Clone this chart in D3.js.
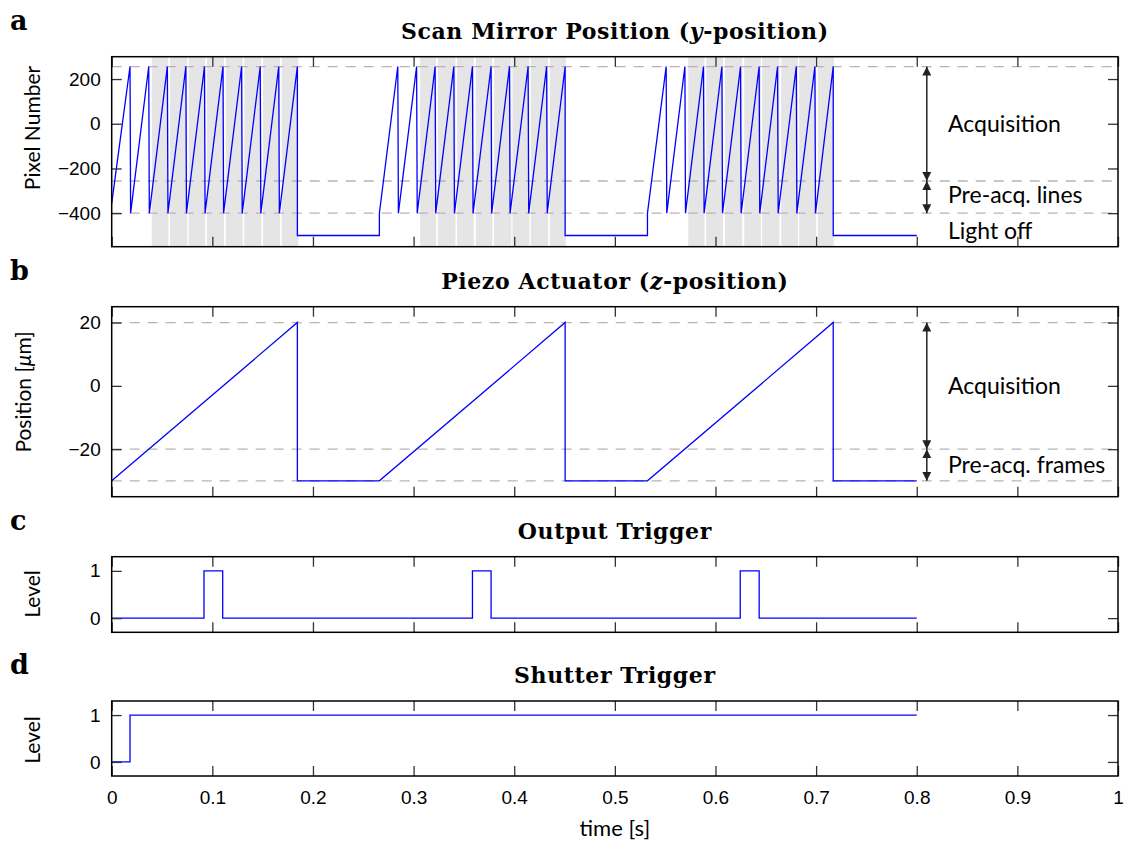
<!DOCTYPE html>
<html>
<head>
<meta charset="utf-8">
<script src="https://cdn.jsdelivr.net/npm/d3@7"></script>
<style>
  body { margin: 0; background: #fff; }
  text { fill: #000; }
</style>
</head>
<body>
<svg id="chart" width="1129" height="844"></svg>
<script>
// time ticks shared by all panels
const timeTicks = [0, 0.1, 0.2, 0.3, 0.4, 0.5, 0.6, 0.7, 0.8, 0.9, 1];

// panel a: scan mirror, three ramp trains
const scanStarts = [0, 0.266, 0.5324];
const scanStartLevel = [-356, -400, -400];
const scanPeaks = [
  [0.0182, 0.0368, 0.0553, 0.0737, 0.0922, 0.1106, 0.1291, 0.1476, 0.1660, 0.1845],
  [0.2843, 0.3030, 0.3214, 0.3400, 0.3585, 0.3770, 0.3953, 0.4138, 0.4322, 0.4506],
  [0.5510, 0.5696, 0.5881, 0.6064, 0.6249, 0.6434, 0.6617, 0.6803, 0.6988, 0.7170]
];
const scanTop = 256, scanBottom = -400, scanOff = -500;
const scanEnd = 0.8;
const bandStart = [0.0398, 0.0580, 0.0765, 0.0947, 0.1133, 0.1318, 0.1504, 0.1690,
                   0.3065, 0.3241, 0.3432, 0.3618, 0.3800, 0.3982, 0.4165, 0.4354,
                   0.5729, 0.5908, 0.6094, 0.6286, 0.6464, 0.6653, 0.6832, 0.7018];
const bandEnd   = [0.0563, 0.0751, 0.0930, 0.1116, 0.1302, 0.1487, 0.1673, 0.1855,
                   0.3224, 0.3416, 0.3598, 0.3783, 0.3972, 0.4151, 0.4337, 0.4513,
                   0.5891, 0.6074, 0.6266, 0.6451, 0.6636, 0.6819, 0.7001, 0.7177];
const scanGrid = [256, -256, -400];
const scanYTicks = [200, 0, -200, -400];

// panel b: piezo
const piezoT = [0, 0.1845, 0.1845, 0.266, 0.4506, 0.4506, 0.5324, 0.7170, 0.7170, 0.8];
const piezoZ = [-30, 20, -30, -30, 20, -30, -30, 20, -30, -30];
const piezoGrid = [20, -20, -30];
const piezoYTicks = [20, 0, -20];

// panel c: output trigger pulses [on, off]
const pulseOn  = [0.0917, 0.3585, 0.6246];
const pulseOff = [0.1103, 0.3770, 0.6434];
// panel d: shutter
const shutterT = [0, 0.0182, 0.0182, 0.8];
const shutterL = [0, 0, 1, 1];
const levelTicks = [1, 0];

const svg = d3.select("#chart");
const left = 111.7, right = 1118;
const x = d3.scaleLinear().domain([0, 1]).range([left, right]);
const blue = "#0000ff";
const tickFont = "'Liberation Sans', Arial, sans-serif";
const labelFont = "Lato, 'Open Sans', sans-serif";
const titleFont = "'DejaVu Serif', serif";
const fmt = d3.format("~g");

// arrow heads
const defs = svg.append("defs");
["start", "end"].forEach(k => {
  defs.append("marker")
    .attr("id", "arr-" + k)
    .attr("viewBox", "0 0 10 10")
    .attr("refX", 10).attr("refY", 5)
    .attr("markerWidth", 9).attr("markerHeight", 9)
    .attr("markerUnits", "userSpaceOnUse")
    .attr("orient", k == "start" ? "auto-start-reverse" : "auto")
    .append("path").attr("d", "M0,0 L10,5 L0,10 z").attr("fill", "#222");
});

function panel(cfg) {
  const y = d3.scaleLinear().domain(cfg.domain).range([cfg.bottom, cfg.top]);
  const g = svg.append("g");

  // grey acquisition bands
  if (cfg.bands) {
    g.selectAll("rect.band").data(cfg.bands).join("rect")
      .attr("class", "band")
      .attr("x", d => x(d[0])).attr("width", d => x(d[1]) - x(d[0]))
      .attr("y", cfg.top).attr("height", cfg.bottom - cfg.top)
      .attr("fill", "#e5e5e5");
  }

  // dashed reference lines
  g.selectAll("line.grid").data(cfg.grid || []).join("line")
    .attr("class", "grid")
    .attr("x1", left).attr("x2", right)
    .attr("y1", d => y(d)).attr("y2", d => y(d))
    .attr("stroke", "#b5b5b5").attr("stroke-width", 1.3)
    .attr("stroke-dasharray", "10,8");

  g.append("path")
    .datum(cfg.points)
    .attr("d", d3.line().x(d => x(d[0])).y(d => y(d[1])))
    .attr("fill", "none").attr("stroke", blue).attr("stroke-width", 1.3);

  // ticks, inward on all four sides
  const tk = (axis) => axis.tickSize(-10).tickPadding(8);
  const styleAxis = sel => {
    sel.select(".domain").remove();
    sel.selectAll(".tick line").attr("stroke", "#333").attr("stroke-width", 1.3);
    sel.selectAll("text").attr("font-family", tickFont).attr("font-size", 19).attr("fill", "#000");
  };
  g.append("g").attr("transform", `translate(0,${cfg.bottom})`)
    .call(tk(d3.axisBottom(x).tickValues(timeTicks)
      .tickFormat(cfg.xLabels ? fmt : "")))
    .call(styleAxis)
    .call(s => s.selectAll("text").attr("dy", "1.05em"));
  g.append("g").attr("transform", `translate(0,${cfg.top})`)
    .call(tk(d3.axisTop(x).tickValues(timeTicks).tickFormat("")))
    .call(styleAxis);
  g.append("g").attr("transform", `translate(${left},0)`)
    .call(tk(d3.axisLeft(y).tickValues(cfg.yTicks).tickFormat(fmt)))
    .call(styleAxis)
    .call(s => s.selectAll("text").attr("x", -11));
  g.append("g").attr("transform", `translate(${right},0)`)
    .call(tk(d3.axisRight(y).tickValues(cfg.yTicks).tickFormat("")))
    .call(styleAxis);

  g.append("rect")
    .attr("x", left).attr("y", cfg.top)
    .attr("width", right - left).attr("height", cfg.bottom - cfg.top)
    .attr("fill", "none").attr("stroke", "#000").attr("stroke-width", 1.5);

  // title and panel letter
  const t = svg.append("text")
    .attr("x", (left + right) / 2).attr("y", cfg.titleY)
    .attr("text-anchor", "middle")
    .attr("font-family", titleFont).attr("font-weight", "bold").attr("font-size", 22)
    .attr("letter-spacing", 0.6);
  cfg.title.forEach(p => t.append("tspan").text(p.s).attr("font-style", p.i ? "italic" : null));
  svg.append("text").attr("x", 10).attr("y", cfg.titleY - 9)
    .attr("font-family", titleFont).attr("font-weight", "bold").attr("font-size", 27)
    .text(cfg.letter);

  // y label
  const yl = svg.append("text")
    .attr("transform", `translate(${cfg.ylabX},${cfg.ylabY}) rotate(-90)`)
    .attr("text-anchor", "middle")
    .attr("font-family", labelFont).attr("font-size", 21);
  cfg.ylabel.forEach(p => yl.append("tspan").text(p.s).attr("font-style", p.i ? "italic" : null));

  // annotation arrows and text
  (cfg.arrows || []).forEach(a => {
    svg.append("line")
      .attr("x1", x(0.81)).attr("x2", x(0.81))
      .attr("y1", y(a[0])).attr("y2", y(a[1]))
      .attr("stroke", "#222").attr("stroke-width", 1.5)
      .attr("marker-start", "url(#arr-start)").attr("marker-end", "url(#arr-end)");
  });
  (cfg.notes || []).forEach(n => {
    svg.append("text").attr("x", 948).attr("y", y(n.v))
      .attr("dy", "0.35em")
      .attr("font-family", labelFont).attr("font-size", 23)
      .text(n.s);
  });
  return y;
}

// build scan mirror path from the ramp trains
const scanPts = [];
scanStarts.forEach((s, gi) => {
  if (gi > 0) scanPts.push([s, scanOff]);
  scanPts.push([s, scanStartLevel[gi]]);
  const pk = scanPeaks[gi];
  pk.forEach((p, i) => {
    scanPts.push([p, scanTop]);
    if (i < pk.length - 1) scanPts.push([p + 0.0006, scanBottom]);
    else scanPts.push([p, scanOff]);
  });
});
scanPts.push([scanEnd, scanOff]);

panel({
  letter: "a", top: 56.7, bottom: 246.7, domain: [-550, 300], titleY: 39,
  title: [{s: "Scan Mirror Position ("}, {s: "y", i: true}, {s: "-position)"}],
  points: scanPts,
  bands: bandStart.map((b, i) => [b, bandEnd[i]]),
  grid: scanGrid, yTicks: scanYTicks,
  ylabel: [{s: "Pixel Number"}], ylabX: 40, ylabY: 128,
  arrows: [[scanTop, -256], [-256, scanBottom]],
  notes: [{s: "Acquisition", v: 0}, {s: "Pre-acq. lines", v: -320}, {s: "Light off", v: -478}]
});

panel({
  letter: "b", top: 306.7, bottom: 496.7, domain: [-35, 25], titleY: 289,
  title: [{s: "Piezo Actuator ("}, {s: "z", i: true}, {s: "-position)"}],
  points: piezoT.map((t, i) => [t, piezoZ[i]]),
  grid: piezoGrid, yTicks: piezoYTicks,
  ylabel: [{s: "Position ["}, {s: "μ", i: true}, {s: "m]"}], ylabX: 31, ylabY: 392,
  arrows: [[20, -20], [-20, -30]],
  notes: [{s: "Acquisition", v: 0}, {s: "Pre-acq. frames", v: -25}]
});

const trigPts = [[0, 0]];
pulseOn.forEach((on, i) => {
  trigPts.push([on, 0], [on, 1], [pulseOff[i], 1], [pulseOff[i], 0]);
});
trigPts.push([0.8, 0]);

panel({
  letter: "c", top: 556.7, bottom: 632.3, domain: [-0.3, 1.3], titleY: 539,
  title: [{s: "Output Trigger"}],
  points: trigPts, yTicks: levelTicks,
  ylabel: [{s: "Level"}], ylabX: 40, ylabY: 594
});

panel({
  letter: "d", top: 701, bottom: 776, domain: [-0.3, 1.3], titleY: 683,
  title: [{s: "Shutter Trigger"}],
  points: shutterT.map((t, i) => [t, shutterL[i]]), yTicks: levelTicks,
  ylabel: [{s: "Level"}], ylabX: 40, ylabY: 740,
  xLabels: true
});

svg.append("text").attr("x", x(0.5)).attr("y", 836)
  .attr("text-anchor", "middle")
  .attr("font-family", labelFont).attr("font-size", 22)
  .text("time [s]");
</script>
</body>
</html>
